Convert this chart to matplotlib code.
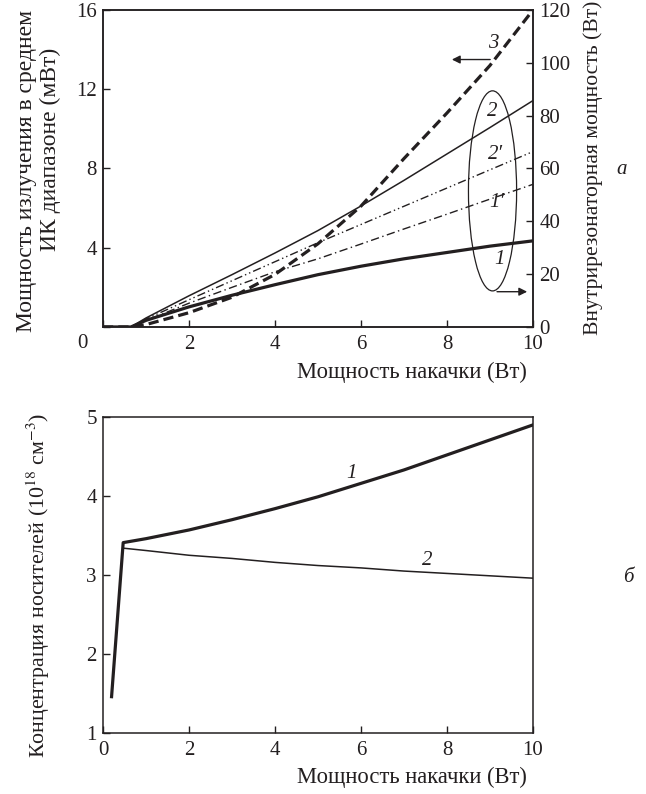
import matplotlib
matplotlib.use("Agg")
import matplotlib.pyplot as plt
from matplotlib.patches import Ellipse

plt.rcParams["font.family"] = ["Liberation Serif", "DejaVu Serif"]
plt.rcParams["mathtext.fontset"] = "stix"

INK = "#231f20"

# ── panel a: pump power vs. output ─────────────────────────────────
pump_a = [0, 0.65, 1, 2, 3, 4, 5, 6, 7, 8, 9, 10]
# intracavity power (W), right axis
p_1 = [0, 0, 2.5, 7.6, 12.0, 16.0, 19.8, 23.0, 25.8, 28.2, 30.6, 32.6]
p_1s = [0, 0, 2.4, 9.0, 15.0, 20.9, 25.8, 31.4, 37.1, 42.7, 48.4, 54.0]
p_2s = [0, 0, 3.0, 10.3, 17.5, 24.7, 31.9, 38.8, 45.7, 52.6, 59.5, 66.4]
p_2 = [0, 0, 3.4, 11.8, 19.8, 28.0, 36.5, 45.8, 55.5, 65.5, 75.5, 85.7]
# mid-IR output (mW), left axis
p_3 = [0, 0, 0.12, 0.72, 1.5, 2.65, 4.2, 6.1, 8.5, 10.8, 13.2, 16.0]

# ── panel б: carrier density ───────────────────────────────────────
pump_b1 = [0.2, 0.47, 1, 2, 3, 4, 5, 6, 7, 8, 9, 10]
dens_1 = [1.46, 3.41, 3.46, 3.57, 3.70, 3.84, 3.99, 4.16, 4.33, 4.52, 4.71, 4.90]
pump_b2 = [0.47, 1, 2, 3, 4, 5, 6, 7, 8, 9, 10]
dens_2 = [3.34, 3.31, 3.25, 3.21, 3.16, 3.12, 3.09, 3.05, 3.02, 2.99, 2.96]

fig = plt.figure(figsize=(6.46, 7.94), dpi=100)
ax = fig.add_axes([0.1594, 0.5882, 0.6656, 0.3992])
ax_r = ax.twinx()
ax2 = fig.add_axes([0.1594, 0.0768, 0.6656, 0.398])
renderer = fig.canvas.get_renderer()


def fit(txt, length_px):
    """scale a text so its long side spans length_px pixels"""
    bb = txt.get_window_extent(renderer)
    txt.set_fontsize(txt.get_fontsize() * length_px / max(bb.width, bb.height))


tick_kw = dict(direction="in", length=5, width=1, colors=INK, labelsize=15)

# curves on the right axis
ax_r.plot(pump_a, p_1, color=INK, lw=2.3)
ax_r.plot(pump_a, p_1s, color=INK, lw=1, dashes=(6, 2.5, 1, 2.5))
ax_r.plot(pump_a, p_2s, color=INK, lw=1, dashes=(6, 2.2, 1, 2.2, 1, 2.2))
ax_r.plot(pump_a, p_2, color=INK, lw=1.1)
# mid-IR power on the left axis
ax.plot(pump_a, p_3, color=INK, lw=2.3, dashes=(3.2, 1.6))

ax.set_xlim(0, 10)
ax.set_ylim(0, 16)
ax_r.set_ylim(0, 120)
ax.set_xticks(range(0, 11, 2))
ax.set_xticklabels(["", "2", "4", "6", "8", "10"])
ax.set_yticks([0, 4, 8, 12, 16])
ax.set_yticklabels(["", "4", "8", "12", "16"])
ax_r.set_yticks(range(0, 121, 20))
ax.tick_params(**tick_kw)
ax.tick_params(axis="x", pad=6)
ax.tick_params(axis="y", pad=4.5)
ax_r.tick_params(**tick_kw, pad=4.5)
ax.text(-0.035, -0.022, "0", transform=ax.transAxes, fontsize=15,
        ha="right", va="top", color=INK)
for sp in list(ax.spines.values()) + list(ax_r.spines.values()):
    sp.set_linewidth(1.1)
    sp.set_color(INK)

xl = ax.set_xlabel("Мощность накачки (Вт)", fontsize=15, color=INK, va="center")
ax.xaxis.set_label_coords(0.719, -0.142)
fit(xl, 230)
yl1 = ax.text(-0.177, 0.492, "Мощность излучения в среднем", transform=ax.transAxes,
              rotation=90, ha="center", va="center", fontsize=15, color=INK)
fit(yl1, 323)
ax.text(-0.123, 0.56, "ИК диапазоне (мВт)", transform=ax.transAxes,
        rotation=90, ha="center", va="center", fontsize=yl1.get_fontsize(), color=INK)
yr = ax.text(1.14, 0.502, "Внутрирезонаторная мощность (Вт)", transform=ax.transAxes,
             rotation=90, ha="center", va="center", fontsize=15, color=INK)
fit(yr, 333)

# curve labels, ellipse and arrows
lab = dict(fontsize=15, style="italic", color=INK, ha="center", va="center")
ax.text(9.07, 14.3, "3", **lab)
ax.text(9.05, 10.9, "2", **lab)
ax.text(9.12, 8.7, "2′", **lab)
ax.text(9.16, 6.26, "1′", **lab)
ax.text(9.23, 3.43, "1", **lab)
ax.add_patch(Ellipse((9.06, 6.87), 1.12, 10.1, fill=False, lw=0.9, ec=INK))
arrow = dict(arrowstyle="-|>", lw=1, color=INK, mutation_scale=12)
ax.annotate("", xy=(8.05, 13.5), xytext=(9.07, 13.5), arrowprops=arrow)
ax.annotate("", xy=(9.93, 1.78), xytext=(9.1, 1.78), arrowprops=arrow)

# ── panel б ────────────────────────────────────────────────────────
ax2.plot(pump_b1, dens_1, color=INK, lw=2.3)
ax2.plot(pump_b2, dens_2, color=INK, lw=1.1)
ax2.set_xlim(0, 10)
ax2.set_ylim(1, 5)
ax2.set_xticks(range(0, 11, 2))
ax2.set_yticks([1, 2, 3, 4, 5])
ax2.tick_params(**tick_kw)
ax2.tick_params(axis="x", pad=6)
ax2.tick_params(axis="y", pad=4.5)
for sp in ax2.spines.values():
    sp.set_linewidth(1.1)
    sp.set_color(INK)
xl2 = ax2.set_xlabel("Мощность накачки (Вт)", fontsize=15, color=INK, va="center")
ax2.xaxis.set_label_coords(0.719, -0.139)
fit(xl2, 230)
yl3 = ax2.set_ylabel("Концентрация носителей (10$^{18}$ см$^{-3}$)", fontsize=15,
                     color=INK, va="center")
ax2.yaxis.set_label_coords(-0.151, 0.468)
fit(yl3, 345)
ax2.text(5.78, 4.28, "1", **lab)
ax2.text(7.53, 3.19, "2", **lab)

fig.text(0.963, 0.786, "а", fontsize=15, style="italic", color=INK, ha="center", va="center")
fig.text(0.972, 0.273, "б", fontsize=15, style="italic", color=INK, ha="center", va="center")

fig.savefig("out.png", dpi=100)
